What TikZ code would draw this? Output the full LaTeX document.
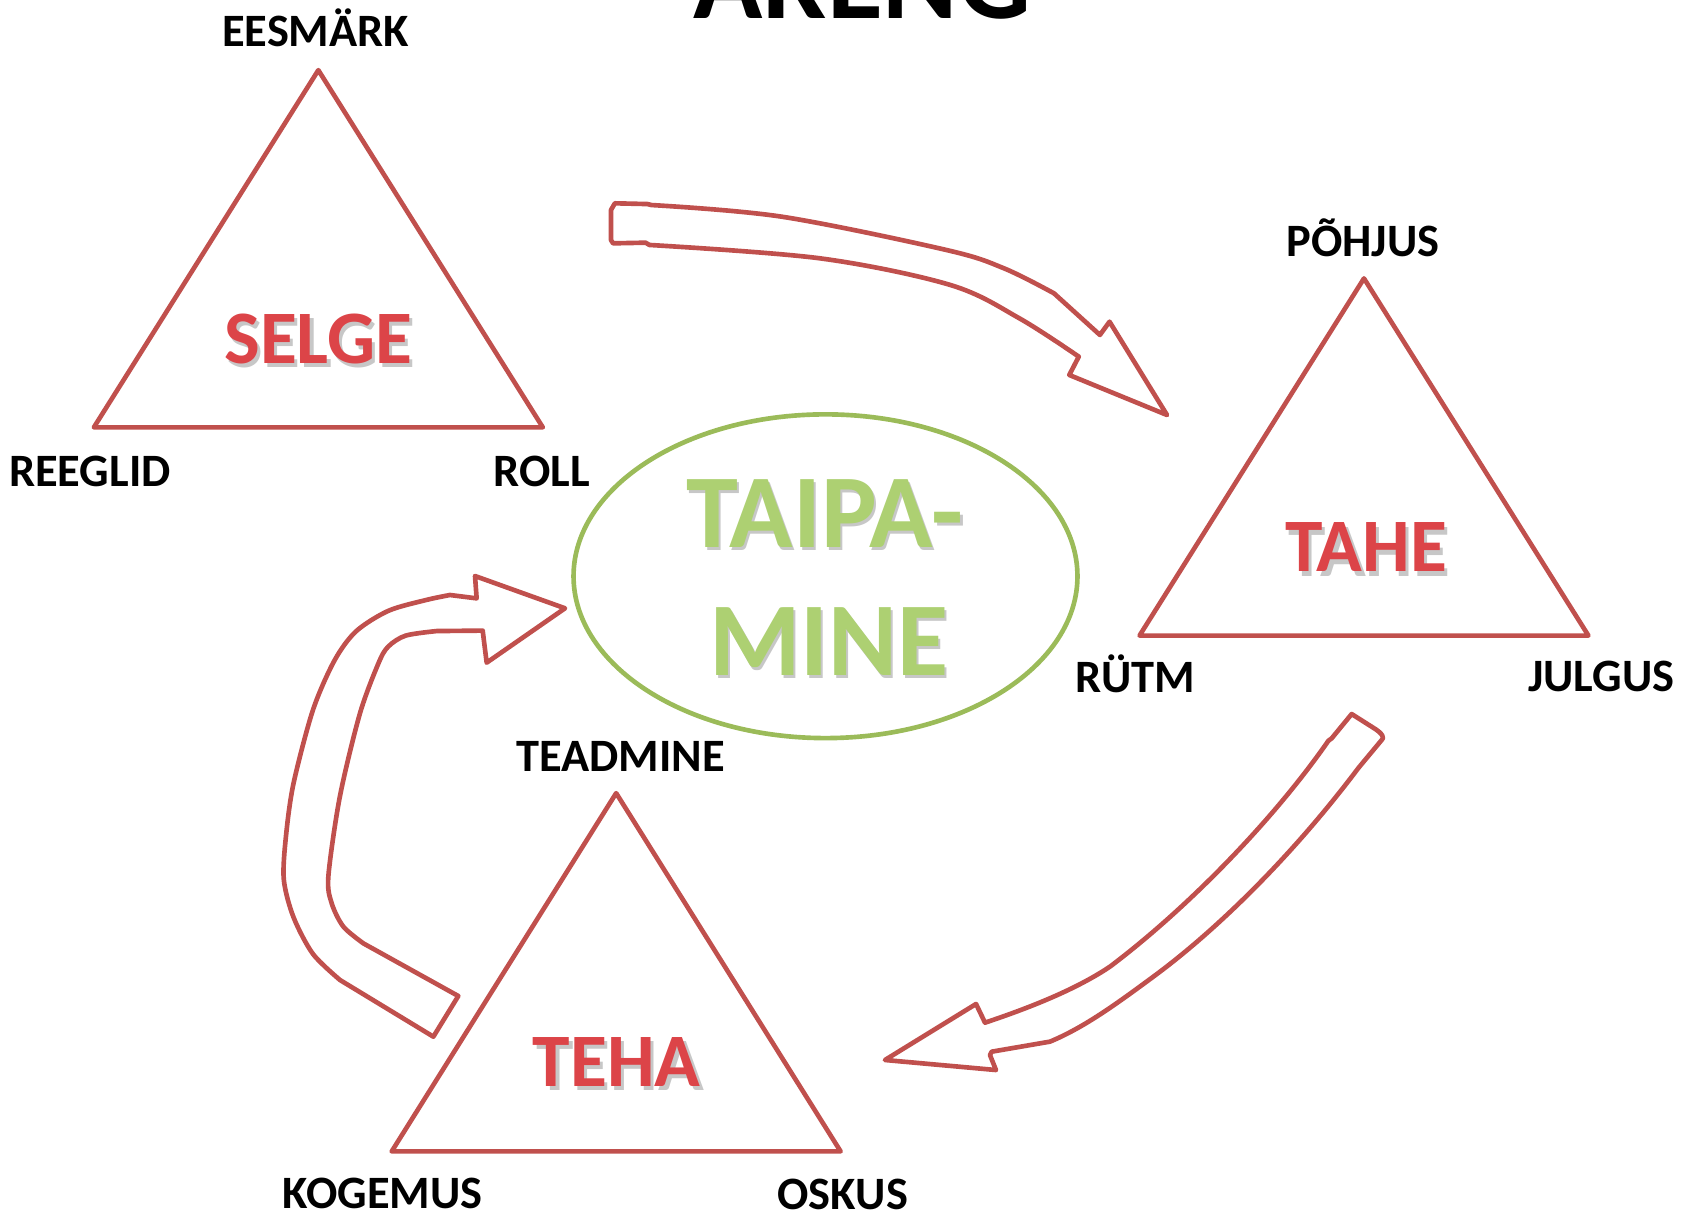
\documentclass[tikz,border=0pt]{standalone}
\usepackage{fontspec}
\setmainfont{Carlito}
\usetikzlibrary{shapes.geometric}
\definecolor{trired}{HTML}{C0504D}
\definecolor{ellgreen}{HTML}{9BBB59}
\definecolor{grntext}{HTML}{ADD072}
\definecolor{redtext}{HTML}{DC4448}
\newcommand{\shadowed}[3]{\rlap{\kern#1\raisebox{-#2}{\textcolor{black!22}{#3}}}#3}
\begin{document}
\begin{tikzpicture}[x=1pt,y=-1pt,line join=round,line cap=round,
  triangle/.style={draw=trired,line width=4.3pt},
  blockarrow/.style={draw=trired,line width=4.3pt,fill=white},
  lbl/.style={font=\fontsize{43}{50}\selectfont\bfseries,anchor=base,inner sep=0pt},
  titletext/.style={font=\fontsize{106}{120}\selectfont\bfseries,anchor=base,inner sep=0pt},
  bigred/.style={font=\fontsize{70}{80}\selectfont\bfseries,text=redtext,anchor=base,inner sep=0pt},
  biggreen/.style={font=\fontsize{97}{110}\selectfont\bfseries,text=grntext,anchor=base,inner sep=0pt}]
\useasboundingbox (0,0) rectangle (1568,1127);

% title (cut off at the top)
\node[titletext] (title) at (799,17) {ARENG};

% triangles
\draw[triangle] (295,65) -- (503,396) -- (87,396) -- cycle;
\draw[triangle] (1264,258) -- (1472,589) -- (1056,589) -- cycle;
\draw[triangle] (571,735) -- (779,1067) -- (363,1067) -- cycle;

% ellipse
\node[ellipse,draw=ellgreen,line width=4.3pt,minimum width=467pt,minimum height=300pt,inner sep=0pt] (taipamine) at (765,534) {};

% block arrow 1 (SELGE -> TAHE)
\draw[blockarrow] (566.2,194.6) -- (569.8,188.4) -- (600,189.1)
  -- plot[smooth,tension=0.55] coordinates {(603.6,190) (724.4,200.8) (877.2,231.7) (930.5,248.7) (976.7,271.8)}
  -- (1019.3,310.4) -- (1028.2,298.1) -- (1081.5,384.6) -- (990.9,347.5) -- (999.7,330.5)
  -- plot[smooth,tension=0.55] coordinates {(999.7,330.5) (944.7,295) (880.7,264.1) (759.9,239.4) (601.8,227)}
  -- (598.3,224.9) -- (568.1,225.5) -- (566.2,222.4) -- cycle;

% block arrow 2 (TAHE -> TEHA)
\draw[blockarrow] (1252.6,661.7) -- (1272,674) .. controls (1282,680) and (1283,684) .. (1280.4,685.8)
  -- (1259,711.5)
  .. controls (1200,790) and (1130,860) .. (1068.8,905.1)
  .. controls (1035,930) and (1005,952) .. (973,965.3)
  -- (919,974.6) -- (917.4,977.7) -- (923,991.6) -- (820.1,982.3) -- (904.5,930.4) -- (912.8,947.7)
  .. controls (960,932) and (1000,915) .. (1028.6,895.8)
  .. controls (1100,842) and (1180,760) .. (1231,686.5)
  -- (1234.1,684.2) -- cycle;

% block arrow 3 (TEHA -> TAIPAMINE)
\draw[blockarrow] (424.7,923) -- (401.6,960.7) -- (315.1,908.2)
  -- plot[smooth,tension=0.5] coordinates {(315.1,908.2) (290,884) (272,850) (263,815) (265,775) (272,726) (290,658) (310,612) (330,585) (360,566) (395,556) (417,551.4)}
  -- (441.7,554.5) -- (440.2,533.8) -- (523.6,563.7) -- (451,614.1) -- (447.3,584.4) -- (404.7,584.8)
  -- plot[smooth,tension=0.5] coordinates {(404.7,584.8) (376,589) (360,599) (351,614) (333.6,661) (315,738) (304.3,812) (307.4,837.1) (318.2,858.7) (336.7,874.2)}
  -- cycle;

% labels
\node[lbl] (eesmark) at (292.5,43) {EESMÄRK};
\node[lbl] (reeglid) at (83.3,451) {REEGLID};
\node[lbl] (roll) at (502,451) {ROLL};
\node[lbl] (pohjus) at (1263,238) {PÕHJUS};
\node[lbl] (rytm) at (1052.3,642) {RÜTM};
\node[lbl] (julgus) at (1484,641) {JULGUS};
\node[lbl] (teadmine) at (575,715) {TEADMINE};
\node[lbl] (kogemus) at (354.7,1120) {KOGEMUS};
\node[lbl] (oskus) at (781,1121) {OSKUS};

% big red words with shadow
\node[bigred] (selge) at (295,337) {\shadowed{3pt}{4pt}{SELGE}};
\node[bigred] (tahe) at (1266,530) {\shadowed{3pt}{4pt}{TAHE}};
\node[bigred] (teha) at (571.5,1007) {\shadowed{3pt}{4pt}{TEHA}};

% green words
\node[biggreen] (taipa) at (764.5,507) {\shadowed{2pt}{3pt}{TAIPA-}};
\node[biggreen] (mine) at (768,626) {\shadowed{2pt}{3pt}{MINE}};
\end{tikzpicture}
\end{document}
